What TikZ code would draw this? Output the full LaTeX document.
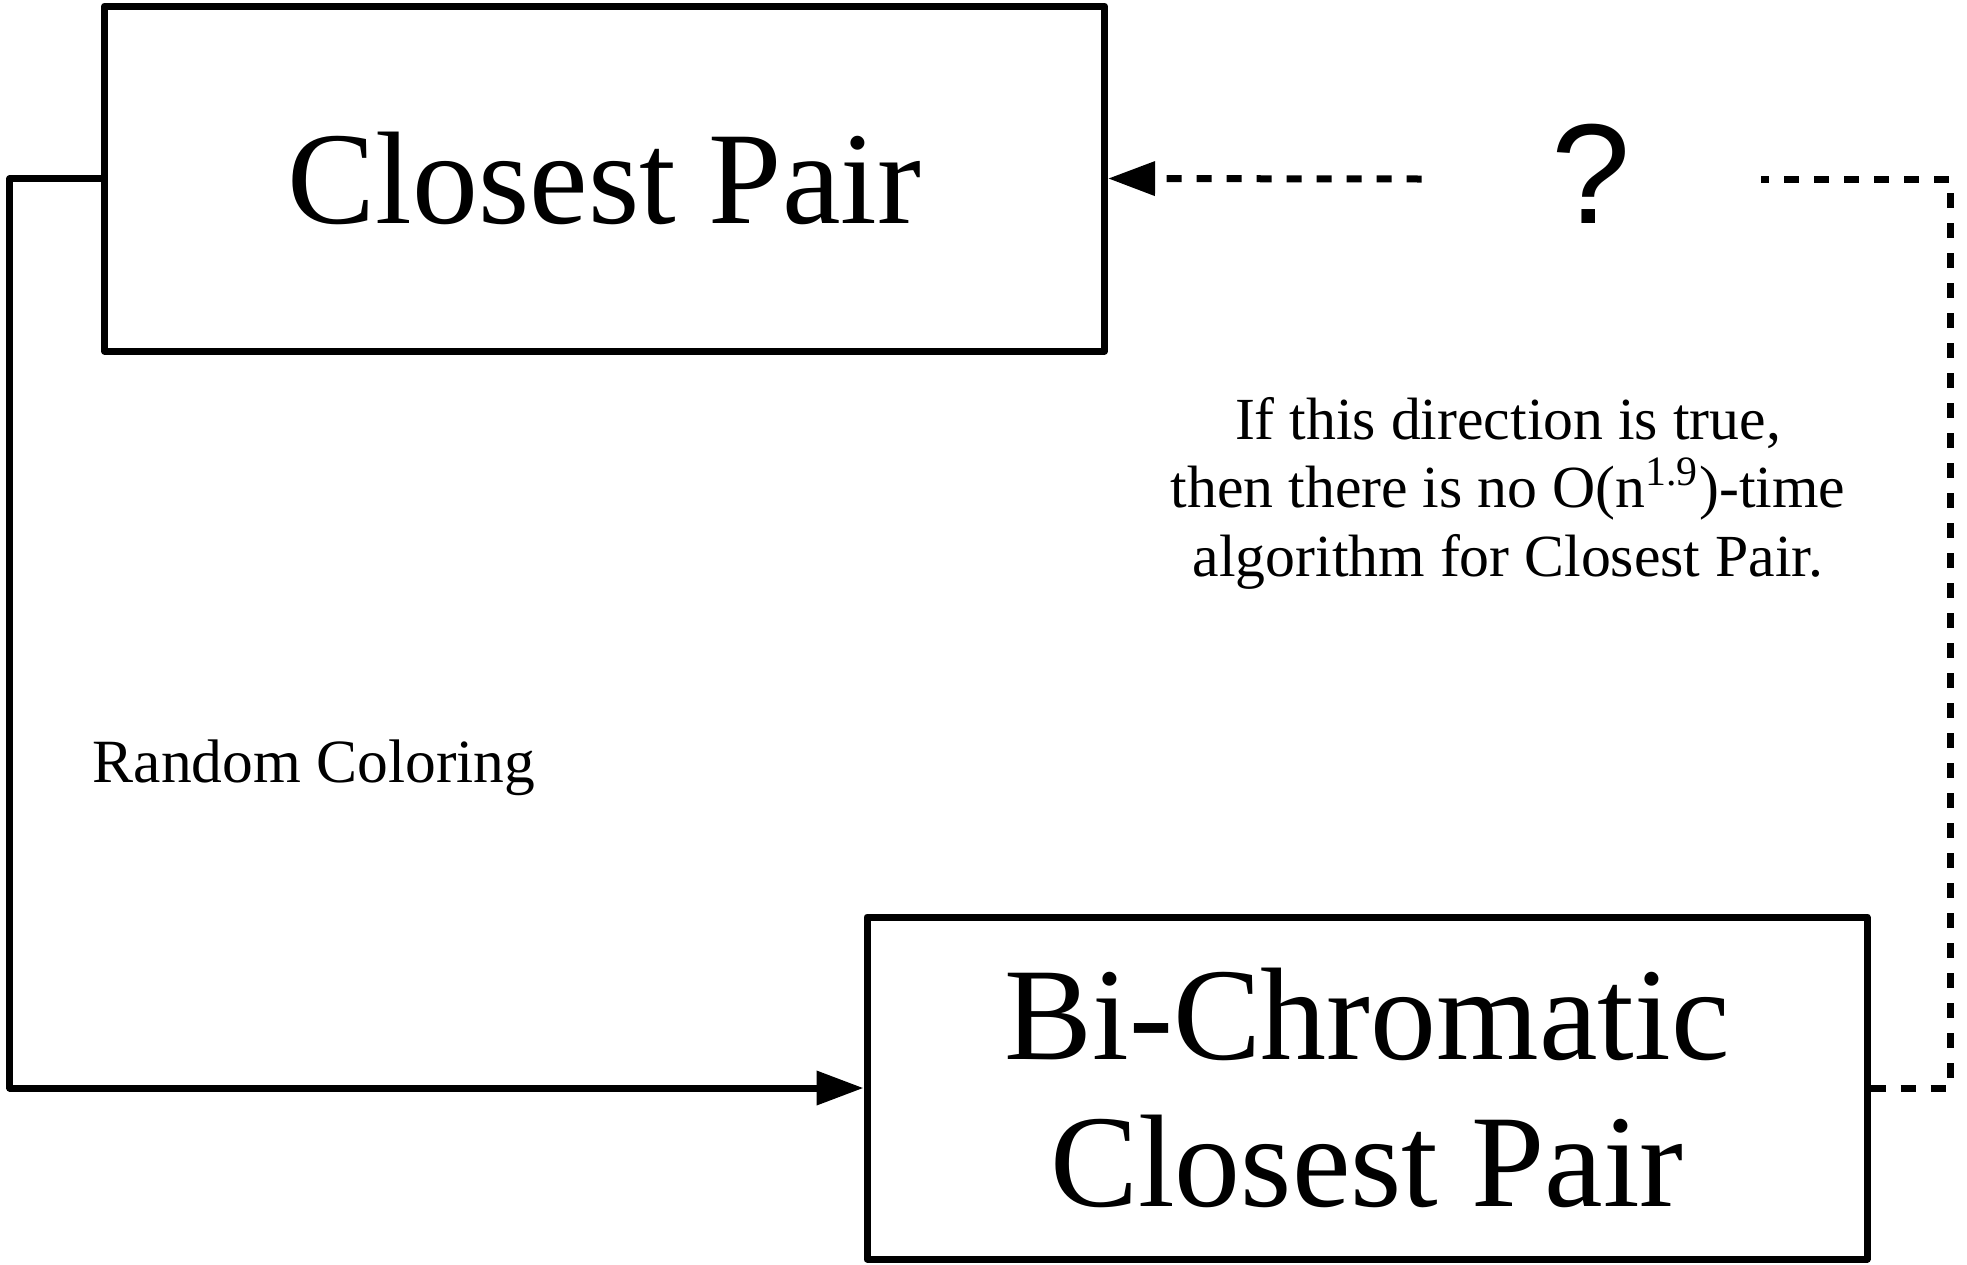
\documentclass[tikz,border=0pt]{standalone}
\usepackage{fontspec}
\setmainfont{Liberation Serif}
\newfontfamily\qfont{Liberation Sans}
\usetikzlibrary{arrows.meta}

\begin{document}
\begin{tikzpicture}[line width=0.07cm, line join=round,
    box/.style={draw,rectangle,inner sep=0pt,minimum width=10cm,font=\fontsize{37.5}{42}\selectfont,align=center},
    note/.style={align=center,font=\fontsize{17}{19.5}\selectfont},
    ask/.style={inner sep=0pt,minimum width=3.32cm,font=\qfont\fontsize{40.5}{44}\selectfont},
    dsh/.style={dash pattern=on 0.15cm off 0.15cm},
    >={Triangle[length=0.47cm,width=0.33cm]}]
  \useasboundingbox (0,0) rectangle (19.67,-12.64);
  \node[box,minimum height=3.45cm] (cp) at (6.045,-1.785) {Closest Pair};
  \node[box,minimum height=3.42cm] (bcp) at (13.67,-10.88) {Bi-Chromatic\\Closest Pair};
  \node[ask] (q) at (15.91,-1.79) {\smash{\raisebox{-0.44cm}{?}}};
  \node[note] (txt) at (15.08,-4.93) {If this direction is true,\\then there is no O(n\textsuperscript{1.9})-time\\algorithm for Closest Pair.};
  \node[font=\fontsize{17.5}{20}\selectfont] (rc) at (3.14,-7.68) {Random Coloring};
  \draw[->] (cp.west) -- ++(-0.91,0) |- (bcp.west);
  \draw[dsh,->] (q.west) -- (cp.east);
  \draw[dsh] (bcp.east) -- ++(0.795,0) |- (q.east);
\end{tikzpicture}
\end{document}
